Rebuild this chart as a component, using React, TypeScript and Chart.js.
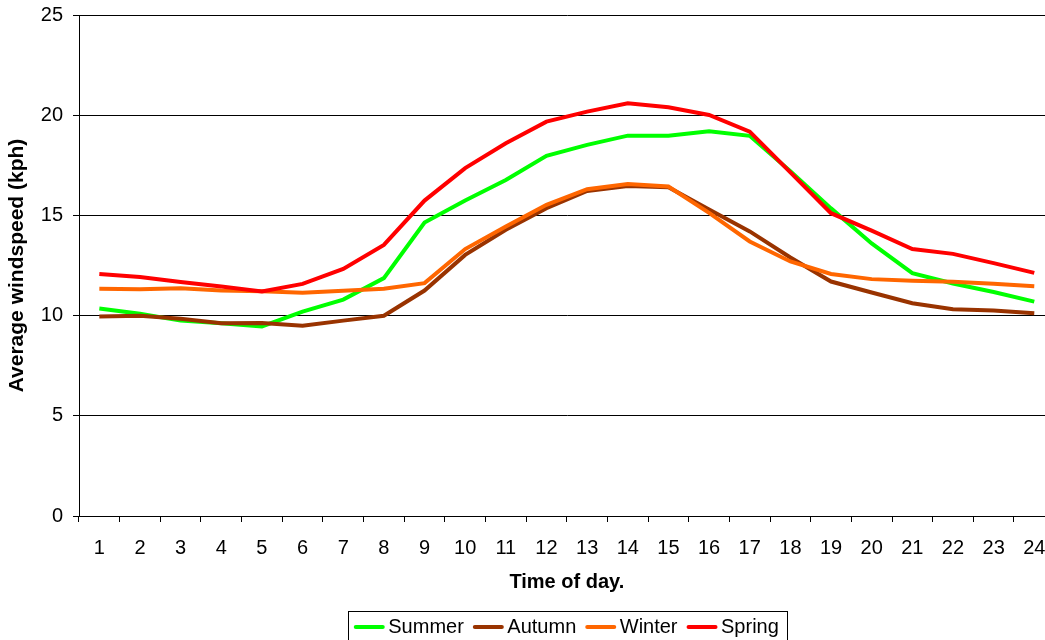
import React, { useEffect, useRef } from 'react';
import { Chart, registerables } from 'chart.js';

Chart.register(...registerables);

const hours = ['1','2','3','4','5','6','7','8','9','10','11','12','13','14','15','16','17','18','19','20','21','22','23','24'];
const summer = [10.35, 10.09, 9.75, 9.62, 9.46, 10.2, 10.8, 11.87, 14.64, 15.74, 16.77, 17.97, 18.52, 18.98, 18.97, 19.2, 18.97, 17.2, 15.35, 13.6, 12.12, 11.6, 11.18, 10.7];
const autumn = [9.96, 9.99, 9.84, 9.62, 9.63, 9.49, 9.75, 9.99, 11.25, 13.03, 14.28, 15.36, 16.22, 16.47, 16.41, 15.3, 14.2, 12.9, 11.7, 11.15, 10.62, 10.32, 10.25, 10.12];
const winter = [11.34, 11.31, 11.36, 11.25, 11.21, 11.14, 11.24, 11.34, 11.62, 13.32, 14.44, 15.53, 16.31, 16.57, 16.44, 15.13, 13.7, 12.7, 12.08, 11.82, 11.74, 11.69, 11.59, 11.47];
const spring = [12.08, 11.93, 11.68, 11.45, 11.2, 11.58, 12.33, 13.53, 15.74, 17.36, 18.6, 19.68, 20.18, 20.6, 20.4, 20.01, 19.18, 17.15, 15.11, 14.24, 13.32, 13.08, 12.62, 12.13];
const seriesNames = ['Summer', 'Autumn', 'Winter', 'Spring'];
const seriesColors = ['#00FF00', '#993300', '#FF6600', '#FF0000'];
const yTicks = [0, 5, 10, 15, 20, 25];

const FONT = '"Liberation Sans", Arial, sans-serif';

const legendDecor = {
  id: 'legendDecor',
  afterDraw(chart: any) {
    const lg = chart.legend;
    if (!lg || !lg.legendHitBoxes || !lg.legendHitBoxes.length) return;
    const ctx = chart.ctx;
    const boxes = lg.legendHitBoxes;
    ctx.save();
    boxes.forEach((hb: any, i: number) => {
      const item = lg.legendItems[i];
      const cy = hb.top + hb.height / 2;
      ctx.strokeStyle = item.strokeStyle;
      ctx.lineWidth = 4;
      ctx.lineCap = 'round';
      ctx.beginPath();
      ctx.moveTo(hb.left + 1, cy);
      ctx.lineTo(hb.left + 28, cy);
      ctx.stroke();
    });
    const first = boxes[0];
    const last = boxes[boxes.length - 1];
    const x0 = Math.round(first.left - 7) + 0.5;
    const x1 = Math.round(last.left + last.width + 8) + 0.5;
    const y0 = Math.round(first.top - 6) + 0.5;
    const y1 = Math.round(first.top + first.height + 6) + 0.5;
    ctx.strokeStyle = '#000';
    ctx.lineWidth = 1;
    ctx.lineCap = 'butt';
    ctx.strokeRect(x0, y0, x1 - x0, y1 - y0);
    ctx.restore();
  },
};

export default function App() {
  const ref = useRef<HTMLCanvasElement | null>(null);
  useEffect(() => {
    if (!ref.current) return;
    const data = [summer, autumn, winter, spring];
    const chart = new Chart(ref.current, {
      type: 'line',
      data: {
        labels: hours,
        datasets: data.map((d, i) => ({
          label: seriesNames[i],
          data: d,
          borderColor: seriesColors[i],
          backgroundColor: seriesColors[i],
          borderWidth: 4,
          pointRadius: 0,
          tension: 0,
          fill: false,
          order: 3 - i,
        })),
      },
      options: {
        responsive: false,
        animation: false,
        layout: { padding: { top: 15, right: 5.4, bottom: 3, left: 0 } },
        plugins: {
          tooltip: { enabled: false },
          legend: {
            position: 'bottom',
            fullSize: false,
            labels: {
              font: { family: FONT, size: 20 },
              color: '#000',
              boxWidth: 23.5,
              boxHeight: 4,
              padding: 10,
              generateLabels: (c: any) =>
                c.data.datasets.map((ds: any, i: number) => ({
                  text: ds.label,
                  fillStyle: 'rgba(0,0,0,0)',
                  strokeStyle: ds.borderColor,
                  lineWidth: 0,
                  hidden: false,
                  datasetIndex: i,
                  fontColor: '#000',
                })),
            },
          },
        },
        scales: {
          x: {
            type: 'category',
            offset: true,
            grid: {
              display: true,
              drawOnChartArea: false,
              drawTicks: true,
              tickLength: 6,
              offset: true,
              color: '#000',
              lineWidth: 1,
            },
            border: { display: true, color: '#000', width: 1 },
            ticks: {
              font: { family: FONT, size: 20 },
              color: '#000',
              padding: 14,
              maxRotation: 0,
              autoSkip: false,
            },
            title: {
              display: true,
              text: 'Time of day.',
              font: { family: FONT, size: 20, weight: 'bold' },
              color: '#000',
              padding: { top: 0, bottom: 13 },
            },
            afterFit: (s: any) => {
              s.height = 91;
              s.paddingLeft = 0;
              s.paddingRight = 0;
            },
          },
          y: {
            min: yTicks[0],
            max: yTicks[yTicks.length - 1],
            grid: {
              color: '#000',
              lineWidth: 1,
              drawTicks: true,
              tickLength: 6,
            },
            border: { display: true, color: '#000', width: 1 },
            ticks: {
              stepSize: 5,
              font: { family: FONT, size: 20 },
              color: '#000',
              padding: 10,
            },
            afterBuildTicks: (s: any) => {
              s.ticks = yTicks.map((v) => ({ value: v }));
            },
            title: {
              display: true,
              text: 'Average windspeed (kph)',
              font: { family: FONT, size: 21, weight: 'bold' },
              color: '#000',
              padding: { top: 5, bottom: 0 },
            },
            afterFit: (s: any) => {
              s.width = 79;
              s.paddingTop = 0;
              s.paddingBottom = 0;
            },
          },
        },
      },
      plugins: [legendDecor],
    } as any);
    return () => chart.destroy();
  }, []);

  return (
    <div
      style={{
        position: 'fixed',
        left: 0,
        top: 0,
        width: 1045,
        height: 640,
        overflow: 'hidden',
        background: '#fff',
      }}
    >
      <canvas ref={ref} width={1060} height={650} style={{ display: 'block' }} />
    </div>
  );
}
